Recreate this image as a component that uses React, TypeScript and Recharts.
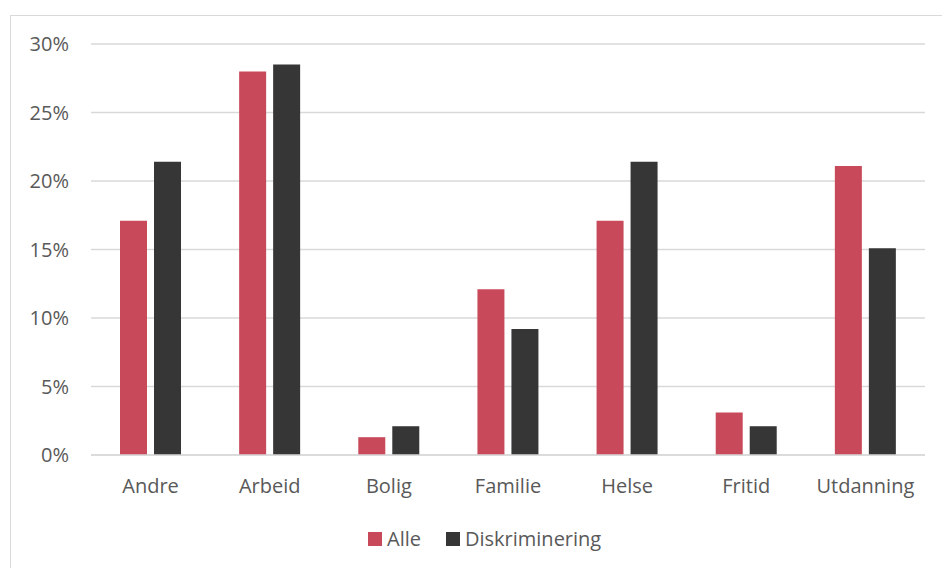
import { BarChart, Bar, XAxis, YAxis, CartesianGrid } from 'recharts'

const categories = ['Andre', 'Arbeid', 'Bolig', 'Familie', 'Helse', 'Fritid', 'Utdanning']
const alle = [0.171, 0.28, 0.013, 0.121, 0.171, 0.031, 0.211]
const diskriminering = [0.214, 0.285, 0.021, 0.092, 0.214, 0.021, 0.151]
const yTicks = [0, 0.05, 0.1, 0.15, 0.2, 0.25, 0.3]

const RED = '#C84A5A'
const DARK = '#363636'
const FONT = '"Open Sans", sans-serif'

const data = categories.map((name, i) => ({ name, alle: alle[i], diskriminering: diskriminering[i] }))

const pct = (v: number) => `${Math.round(v * 100)}%`

export default function App() {
  return (
    <div style={{ position: 'absolute', left: 0, top: 0, width: 942, height: 568, overflow: 'hidden', background: '#fff', fontFamily: FONT }}>
      <div
        style={{
          position: 'absolute',
          left: 10,
          top: 15,
          width: 1000,
          height: 1000,
          border: '1px solid #d9d9d9',
        }}
      />
      <div style={{ position: 'absolute', left: 0, top: 0 }}>
        <BarChart
          width={942}
          height={568}
          data={data}
          margin={{ top: 44, right: 17, left: 0, bottom: 0 }}
          barSize={27}
          barGap={7}
        >
          <CartesianGrid vertical={false} stroke="#d9d9d9" strokeWidth={1.3} />
          <XAxis
            dataKey="name"
            height={113}
            tickLine={false}
            tickSize={0}
            tickMargin={24}
            axisLine={{ stroke: '#d9d9d9', strokeWidth: 1.3 }}
            tick={{ fill: '#595959', fontSize: 20, fontFamily: FONT }}
          />
          <YAxis
            width={91}
            domain={[0, 0.3]}
            ticks={yTicks}
            tickFormatter={pct}
            axisLine={false}
            tickLine={false}
            tickSize={0}
            tickMargin={22}
            tick={{ fill: '#595959', fontSize: 20, fontFamily: FONT }}
          />
          <Bar dataKey="alle" name="Alle" fill={RED} isAnimationActive={false} />
          <Bar dataKey="diskriminering" name="Diskriminering" fill={DARK} isAnimationActive={false} />
        </BarChart>
      </div>
      <div
        style={{
          position: 'absolute',
          left: 368,
          top: 528,
          display: 'flex',
          alignItems: 'center',
          fontSize: 20,
          color: '#595959',
          lineHeight: '22px',
        }}
      >
        <span style={{ width: 14, height: 14, background: RED, display: 'inline-block', marginRight: 5 }} />
        <span style={{ marginRight: 25 }}>Alle</span>
        <span style={{ width: 14, height: 14, background: DARK, display: 'inline-block', marginRight: 5 }} />
        <span>Diskriminering</span>
      </div>
    </div>
  )
}
